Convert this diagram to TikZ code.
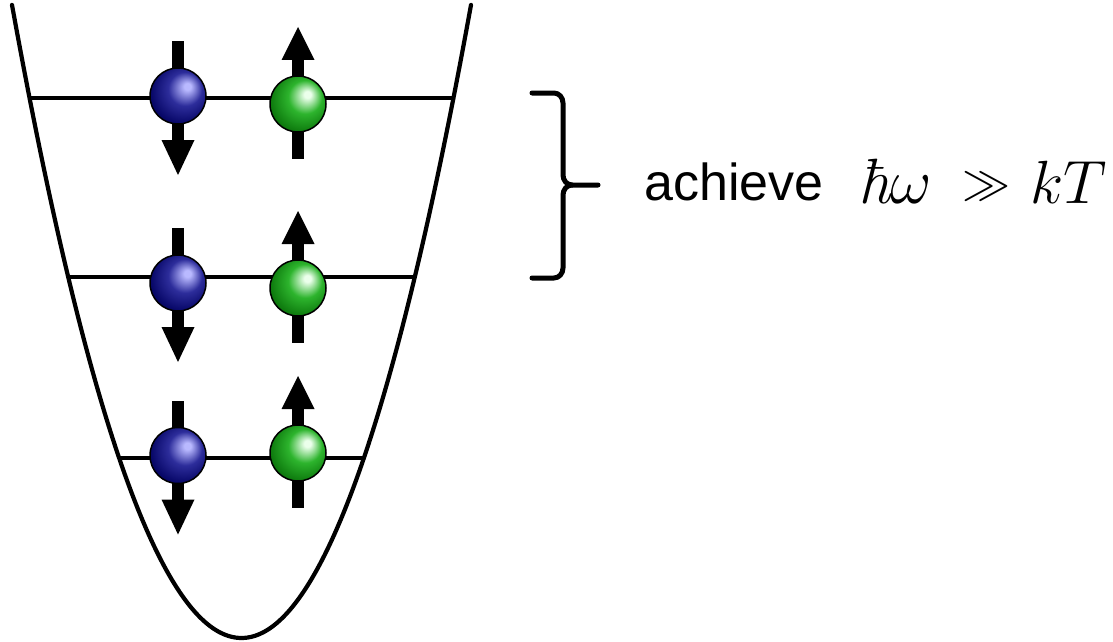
\RequirePackage{fix-cm}
\documentclass[tikz,border=0pt]{standalone}
\usepackage{fontspec}
\newfontfamily\labelfont{Liberation Sans}
\usetikzlibrary{calc}
\definecolor{bhi}{RGB}{185,185,255}
\definecolor{bmid}{RGB}{45,45,155}
\definecolor{bedge}{RGB}{8,8,105}
\definecolor{bdark}{RGB}{0,0,65}
\definecolor{ghi}{RGB}{235,255,235}
\definecolor{gmid}{RGB}{45,180,45}
\definecolor{gedge}{RGB}{15,125,15}
\definecolor{gdark}{RGB}{0,75,0}
\pgfdeclareradialshading{blueball}{\pgfpoint{9bp}{9bp}}{color(0bp)=(bhi); color(3bp)=(bhi); color(15bp)=(bmid); color(28bp)=(bedge); color(40bp)=(bdark); color(50bp)=(bdark)}
\pgfdeclareradialshading{greenball}{\pgfpoint{9bp}{9bp}}{color(0bp)=(ghi); color(3bp)=(ghi); color(15bp)=(gmid); color(28bp)=(gedge); color(40bp)=(gdark); color(50bp)=(gdark)}
\tikzset{
  ballb/.style={circle, draw=black, line width=1.5pt, minimum size=56pt, inner sep=0pt, shading=blueball},
  ballg/.style={circle, draw=black, line width=1.5pt, minimum size=56pt, inner sep=0pt, shading=greenball},
  well/.style={line width=4.2pt, line cap=round},
  level/.style={line width=3.2pt},
  brace/.style={line width=5pt, line cap=round, line join=round},
  txt/.style={inner sep=0pt, anchor=base west, font=\labelfont\fontsize{52}{60}\selectfont},
  mth/.style={inner sep=0pt}
}
\newcommand{\spindn}[1]{%
  \fill ($(#1)+(-5.6,-55)$) rectangle ($(#1)+(5.6,45)$);
  \fill ($(#1)+(-16.5,44)$) -- ($(#1)+(16.5,44)$) -- ($(#1)+(0,79)$) -- cycle;}
\newcommand{\spinup}[1]{%
  \fill ($(#1)+(-5.6,-45)$) rectangle ($(#1)+(5.6,55)$);
  \fill ($(#1)+(-16.5,-44)$) -- ($(#1)+(16.5,-44)$) -- ($(#1)+(0,-77)$) -- cycle;}
\begin{document}
\begin{tikzpicture}[x=1pt,y=-1pt]
\useasboundingbox (0,0) rectangle (1113,642);
% potential well
\draw[well, domain=-229.5:229.5, samples=120, smooth] plot ({241.5+\x},{638-1.202*(\x/10)*(\x/10)});
% energy levels
\coordinate (l1a) at (30,98);  \coordinate (l1b) at (453,98);
\coordinate (l2a) at (69,277); \coordinate (l2b) at (414,277);
\coordinate (l3a) at (120,458);\coordinate (l3b) at (363,458);
\draw[level] (l1a) -- (l1b);
\draw[level] (l2a) -- (l2b);
\draw[level] (l3a) -- (l3b);
% ball centres
\coordinate (cb1) at (178,96);   \coordinate (cg1) at (298,104);
\coordinate (cb2) at (178,283);  \coordinate (cg2) at (298,288);
\coordinate (cb3) at (178,455.5);\coordinate (cg3) at (298,453);
\spindn{cb1} \spindn{cb2} \spindn{cb3}
\spinup{cg1} \spinup{cg2} \spinup{cg3}
\node[ballb] (b1) at (cb1) {};
\node[ballb] (b2) at (cb2) {};
\node[ballb] (b3) at (cb3) {};
\node[ballg] (g1) at (cg1) {};
\node[ballg] (g2) at (cg2) {};
\node[ballg] (g3) at (cg3) {};
% brace
\coordinate (bt) at (532,93);
\coordinate (bb) at (532,278);
\coordinate (bm) at (572,185);
\coordinate (btip) at (598,185);
\draw[brace] (bt) -- (554,93) to[out=0,in=90] (563,103) -- (563,175) to[out=-90,in=180] (bm) -- (btip);
\draw[brace] (bm) to[out=180,in=90] (563,195) -- (563,268) to[out=-90,in=0] (554,278) -- (bb);
% text
\node[txt] (ach) at (644,200) {achieve};
\node[mth, anchor=base west, font=\fontsize{64}{70}\selectfont] (hw) at (858,203) {\itshape ħ\upshape$\omega$};
\node[mth, anchor=base, font=\fontsize{48}{54}\selectfont] (gg) at (986,198) {$\gg$};
\node[mth, anchor=base east, font=\fontsize{61}{66}\selectfont] (kt) at (1107,203) {$kT$};
\end{tikzpicture}
\end{document}
